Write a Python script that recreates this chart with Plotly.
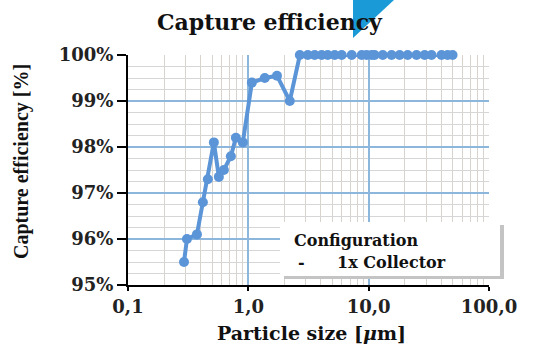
import plotly.graph_objects as go

# ---- data ----
particle_size = [0.292, 0.309, 0.374, 0.419, 0.461, 0.517, 0.569, 0.626, 0.716, 0.788,
                 0.900, 1.07, 1.37, 1.73, 2.21,
                 2.68, 3.12, 3.56, 4.07, 4.57, 5.22, 5.97, 7.23, 8.75, 9.62, 10.6,
                 11.2, 13.1, 15.5, 18.1, 21.1, 25.0, 29.2, 33.3, 40.3, 45.3, 49.8]
efficiency = [95.5, 96.0, 96.1, 96.8, 97.3, 98.1, 97.35, 97.5, 97.8, 98.2,
              98.1, 99.4, 99.5, 99.55, 99.0,
              100, 100, 100, 100, 100, 100, 100, 100, 100, 100, 100,
              100, 100, 100, 100, 100, 100, 100, 100, 100, 100, 100]

x_tickvals = [0.1, 1, 10, 100]
x_ticktext = ["0,1", "1,0", "10,0", "100,0"]
x_minor = [k * 10 ** d for d in (-1, 0, 1) for k in range(2, 10)]
y_tickvals = [95, 96, 97, 98, 99, 100]
y_ticktext = ["95%", "96%", "97%", "98%", "99%", "100%"]

title_text = "Capture efficiency"
x_title = "Particle size [<i>μ</i>m]"
y_title = "Capture efficiency [%]"
legend_title = "Configuration"
legend_item = "1x Collector"

# ---- layout geometry (pixels of the 546x351 canvas) ----
W, H = 546, 351
L, R, T, B = 128, 489, 55, 285


def px(x):
    return (x - L) / (R - L)


def py(y):
    return (B - y) / (B - T)


SERIF = "DejaVu Serif"
LINE_COLOR = "#5b95d8"

fig = go.Figure()
fig.add_trace(go.Scatter(
    x=particle_size, y=efficiency, mode="lines+markers",
    line=dict(color=LINE_COLOR, width=4),
    marker=dict(color=LINE_COLOR, size=10, symbol="circle"),
    cliponaxis=False, showlegend=False,
))

fig.update_layout(
    width=W, height=H,
    margin=dict(l=L, r=W - R, t=T, b=H - B, pad=0),
    paper_bgcolor="white", plot_bgcolor="white",
    showlegend=False,
    xaxis=dict(
        type="log", range=[-1, 2],
        tickmode="array", tickvals=x_tickvals, ticktext=x_ticktext,
        tickfont=dict(family=SERIF, size=18, color="#222", weight="bold"),
        showgrid=True, gridcolor="#8db6dc", gridwidth=1.5,
        minor=dict(tickmode="array", tickvals=x_minor, showgrid=True,
                   gridcolor="#d9d3ce", gridwidth=1, ticks=""),
        showline=True, linecolor="black", linewidth=2,
        ticks="outside", ticklen=4, tickwidth=2, tickcolor="black",
        zeroline=False,
    ),
    yaxis=dict(
        range=[95, 100],
        tickmode="array", tickvals=y_tickvals, ticktext=y_ticktext,
        tickfont=dict(family=SERIF, size=18, color="#222", weight="bold"),
        showgrid=True, gridcolor="#8db6dc", gridwidth=1.5,
        minor=dict(dtick=0.25, showgrid=True, gridcolor="#d6d6d6", gridwidth=1, ticks=""),
        showline=True, linecolor="black", linewidth=2,
        ticks="outside", ticklen=9, tickwidth=2, tickcolor="black",
        zeroline=False,
    ),
)

# title, axis titles
fig.add_annotation(text=title_text, xref="paper", yref="paper", x=px(270), y=py(22),
                   xanchor="center", yanchor="middle", showarrow=False,
                   font=dict(family=SERIF, size=22, color="#111", weight="bold"))
fig.add_annotation(text=x_title, xref="paper", yref="paper", x=px(311), y=py(333),
                   xanchor="center", yanchor="middle", showarrow=False,
                   font=dict(family=SERIF, size=19, color="#111", weight="bold"))
fig.add_annotation(text=y_title, xref="paper", yref="paper", x=px(21), y=py(162),
                   xanchor="center", yanchor="middle", showarrow=False, textangle=-90,
                   font=dict(family="Liberation Serif", size=20, color="#111", weight="bold"))

# legend box with shadow
fig.add_shape(type="rect", xref="paper", yref="paper",
              x0=px(284), x1=px(504), y0=py(225), y1=py(279),
              fillcolor="#c4c4c4", line=dict(width=0), layer="above")
fig.add_shape(type="rect", xref="paper", yref="paper",
              x0=px(280), x1=px(500), y0=py(222), y1=py(276),
              fillcolor="white", line=dict(width=0), layer="above")
fig.add_annotation(text=legend_title, xref="paper", yref="paper", x=px(292), y=py(240),
                   xanchor="left", yanchor="middle", showarrow=False,
                   font=dict(family=SERIF, size=16, color="#111", weight="bold"))
fig.add_annotation(text="-", xref="paper", yref="paper", x=px(296), y=py(262),
                   xanchor="left", yanchor="middle", showarrow=False,
                   font=dict(family=SERIF, size=16, color="#111", weight="bold"))
fig.add_annotation(text=legend_item, xref="paper", yref="paper", x=px(335), y=py(262),
                   xanchor="left", yanchor="middle", showarrow=False,
                   font=dict(family=SERIF, size=16, color="#111", weight="bold"))

# blue wedge at the top
fig.add_shape(type="path", xref="paper", yref="paper",
              path=f"M {px(353)} {py(0)} L {px(394)} {py(0)} L {px(353)} {py(38)} Z",
              fillcolor="#1b9ad8", line=dict(width=0), layer="above")

fig.write_html("out.html",
               config={"displayModeBar": False},
               post_script="document.body.style.margin='0';document.body.style.overflow='hidden';")
